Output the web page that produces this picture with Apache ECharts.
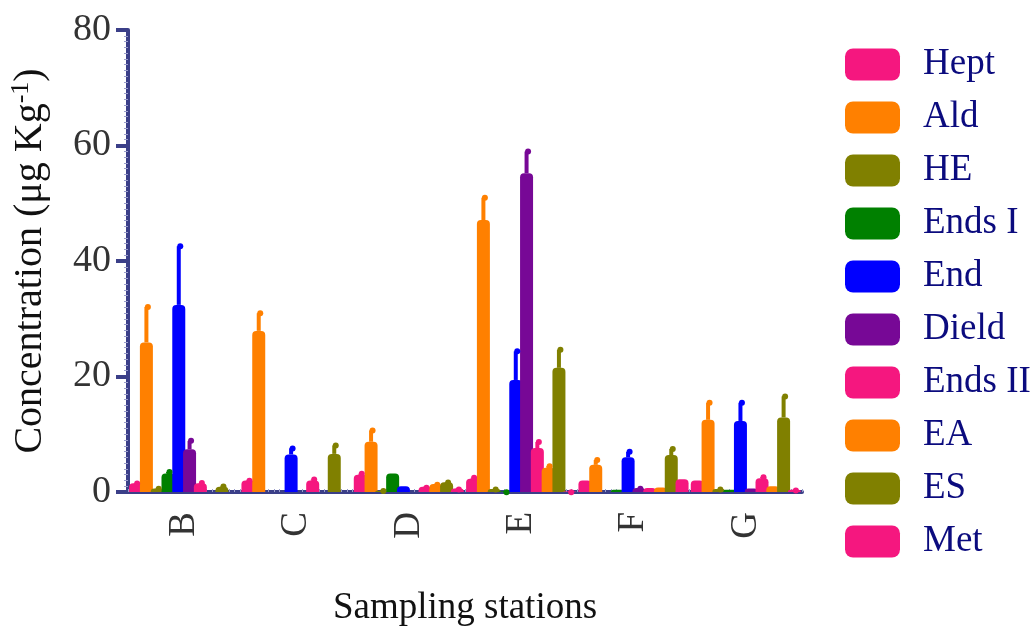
<!DOCTYPE html>
<html><head><meta charset="utf-8">
<script src="https://cdn.jsdelivr.net/npm/echarts@6/dist/echarts.min.js"></script>
<style>html,body{margin:0;padding:0;background:#fff}#c{width:1032px;height:633px}</style>
</head><body><div id="c"></div>
<script>
const categories = ['B', 'C', 'D', 'E', 'F', 'G'];
const seriesNames = ['Hept', 'Ald', 'HE', 'Ends I', 'End', 'Dield', 'Ends II', 'EA', 'ES', 'Met'];
const hept    = [1.5, 2.0, 3.0, 2.3, 2.0, 2.0];
const ald     = [25.9, 27.9, 8.7, 47.1, 4.7, 12.5];
const he      = [0.6, 0, 0.2, 0.5, 0, 0.5];
const endsI   = [3.2, 0, 3.2, 0.1, 0.4, 0.4];
const endr    = [32.4, 6.5, 1.0, 19.4, 6.0, 12.3];
const dield   = [7.4, 0, 0, 55.2, 0.7, 0.6];
const endsII  = [1.5, 2.0, 0.9, 7.6, 0.7, 2.4];
const ea      = [0, 0, 1.4, 4.2, 0.8, 1.0];
const es      = [0.9, 6.6, 1.7, 21.5, 6.4, 12.9];
const met     = [0, 0, 0.6, 0.1, 2.2, 0.4];
const heptErr   = [0.3, 0.3, 0.5, 0.5, 0, 0];
const aldErr    = [6.5, 3.4, 2.3, 4.2, 1.2, 3.3];
const heErr     = [0.3, 0, 0.3, 0.3, 0, 0.3];
const endsIErr  = [0.6, 0, 0, 0.2, 0, 0];
const endrErr   = [10.5, 1.4, 0, 5.3, 1.3, 3.5];
const dieldErr  = [1.8, 0, 0, 4.1, 0.2, 0];
const endsIIErr = [0.4, 0.5, 0.2, 1.4, 0, 0.5];
const eaErr     = [0, 0, 0.2, 0.6, 0, 0];
const esErr     = [0.4, 1.8, 0.3, 3.5, 1.4, 4.0];
const metErr    = [0, 0, 0.2, 0.2, 0, 0.2];
const yTicks = [0, 20, 40, 60, 80];

const values = [hept, ald, he, endsI, endr, dield, endsII, ea, es, met];
const errors = [heptErr, aldErr, heErr, endsIErr, endrErr, dieldErr, endsIIErr, eaErr, esErr, metErr];
const colors = ['#F5177F', '#FF8000', '#808000', '#008000', '#0000FF', '#770896', '#F5177F', '#FF8000', '#808000', '#F5177F'];

const BW = 13;
const GAP = -0.17;
const n = seriesNames.length;
const STEP = BW * (1 + GAP);
const TOTAL = n * BW + (n - 1) * GAP * BW;
const axisColor = '#3B3F88';
const font = 'Liberation Serif';

const series = [];
seriesNames.forEach((name, i) => {
  series.push({
    type: 'bar', name: name, data: values[i],
    barWidth: BW, barGap: (GAP * 100) + '%',
    itemStyle: { color: colors[i], borderRadius: [4, 4, 0, 0] },
    z: 2
  });
});
seriesNames.forEach((name, i) => {
  series.push({
    type: 'custom', name: name,
    data: categories.map((c, k) => [k, values[i][k], errors[i][k]]),
    encode: { x: 0, y: 1 },
    z: 3,
    renderItem: function (params, api) {
      const ci = api.value(0), v = api.value(1), e = api.value(2);
      if (!e) return null;
      const base = api.coord([ci, v]);
      const top = api.coord([ci, v + e]);
      const x = base[0] - TOTAL / 2 + BW / 2 + i * STEP;
      return {
        type: 'group',
        children: [
          { type: 'line', shape: { x1: x, y1: base[1], x2: x, y2: top[1] + 2 }, style: { stroke: colors[i], lineWidth: 4 } },
          { type: 'circle', shape: { cx: x + 1.5, cy: top[1] + 2, r: 3 }, style: { fill: colors[i] } }
        ]
      };
    }
  });
});

const chart = echarts.init(document.getElementById('c'));
chart.setOption({
  animation: false,
  backgroundColor: '#fff',
  grid: { left: 125, right: 230, top: 30, bottom: 141, containLabel: false },
  legend: {
    orient: 'vertical', left: 845, top: 46, padding: 0,
    itemWidth: 55, itemHeight: 32, itemGap: 16,
    icon: 'roundRect',
    data: seriesNames.map((nm, i) => ({ name: nm, itemStyle: { color: colors[i] } })),
    textStyle: { fontFamily: font, fontSize: 37, color: '#0B0B7E', lineHeight: 36, padding: [0, 0, 0, 18] }
  },
  xAxis: [{
    type: 'category', data: categories,
    name: 'Sampling stations', nameLocation: 'middle', nameGap: 98,
    nameTextStyle: { fontFamily: font, fontSize: 37, color: '#111' },
    axisLine: { lineStyle: { color: axisColor, width: 4 } },
    axisTick: { alignWithLabel: true, length: 12, lineStyle: { color: axisColor, width: 4 } },
    axisLabel: { rotate: 90, margin: 20, fontFamily: font, fontSize: 37, color: '#333' }
  }, {
    type: 'value', min: 0, max: 120, interval: 1, position: 'bottom',
    axisLine: { show: false }, axisLabel: { show: false }, splitLine: { show: false },
    axisTick: { inside: true, length: 3, lineStyle: { color: '#9A9DCB', width: 1 } }
  }],
  yAxis: {
    type: 'value', min: yTicks[0], max: yTicks[yTicks.length - 1], interval: yTicks[1] - yTicks[0],
    name: 'Concentration (μg Kg{sup|-1})', nameLocation: 'middle', nameGap: 76,
    nameTextStyle: { fontFamily: font, fontSize: 40, color: '#111',
      rich: { sup: { fontFamily: font, fontSize: 26, color: '#111', verticalAlign: 'bottom', padding: [0, 0, 18, 0] } } },
    axisLine: { show: true, lineStyle: { color: axisColor, width: 4 } },
    axisTick: { show: true, length: 12, lineStyle: { color: axisColor, width: 4 } },
    minorTick: { show: true, splitNumber: 20, length: 4, lineStyle: { color: '#9A9DCB', width: 1 } },
    splitLine: { show: false },
    axisLabel: { margin: 17, fontFamily: font, fontSize: 38, color: '#333' }
  },
  series: series
});
</script></body></html>
